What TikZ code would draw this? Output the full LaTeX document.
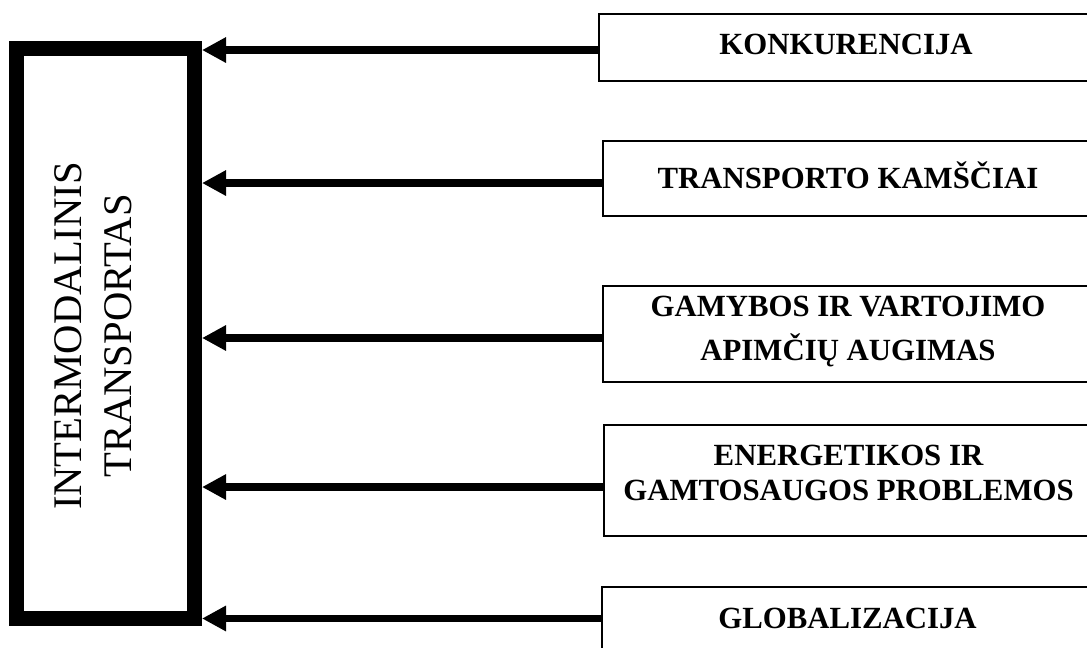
\documentclass[tikz,border=0pt]{standalone}
\usepackage{fontspec}
\setmainfont{Liberation Serif}
\usetikzlibrary{arrows.meta,positioning}

\begin{document}
\begin{tikzpicture}[
    x=0.75pt, y=-0.75pt,
    hub/.style={rectangle, draw=black, line width=11.25pt, minimum width=133.5pt, minimum height=427.5pt},
    factor/.style={rectangle, draw=black, line width=1.1pt, align=center, fill=white, inner sep=0pt, font=\bfseries\fontsize{23.1}{26.25}\selectfont},
    arrow/.style={-{Triangle[length=18pt, width=18pt]}, line width=5.6pt}
]
    \useasboundingbox (0,0) rectangle (1087,648);

    % Central box
    \node[hub] (hub) at (105.5,333.5) {};
    \node[rotate=90, align=center, font=\fontsize{30.5}{37.5}\selectfont] (hub-text) at (93.5,336) {INTERMODALINIS\\TRANSPORTAS};

    % Factors
    \node[factor, minimum width=370.5pt, minimum height=50.25pt, text depth=5pt] (konk) at (846,47.5) {KONKURENCIJA};
    \node[factor, minimum width=367.5pt, minimum height=56.25pt, text depth=4.5pt] (kamsciai) at (848,178.5) {TRANSPORTO KAMŠČIAI};
    \node[factor, minimum width=367.5pt, minimum height=72pt, text depth=8.4pt] (gamyba) at (848,334) {GAMYBOS IR VARTOJIMO\\[6.75pt]APIMČIŲ AUGIMAS};
    \node[factor, minimum width=366.75pt, minimum height=83.25pt, text depth=12pt] (energ) at (848.5,480.5) {ENERGETIKOS IR\\GAMTOSAUGOS PROBLEMOS};
    \node[factor, minimum width=368.25pt, minimum height=47.25pt] (glob) at (847.5,618.5) {GLOBALIZACIJA};

    % Arrows into the central box
    \draw[arrow] ([yshift=-1.9pt]konk.west) -- ([yshift=-1.9pt]konk.west -| hub.east);
    \draw[arrow] ([yshift=-3.4pt]kamsciai.west) -- ([yshift=-3.4pt]kamsciai.west -| hub.east);
    \draw[arrow] ([yshift=-3pt]gamyba.west) -- ([yshift=-3pt]gamyba.west -| hub.east);
    \draw[arrow] ([yshift=-4.9pt]energ.west) -- ([yshift=-4.9pt]energ.west -| hub.east);
    \draw[arrow] (glob.west) -- (glob.west -| hub.east);
\end{tikzpicture}
\end{document}
